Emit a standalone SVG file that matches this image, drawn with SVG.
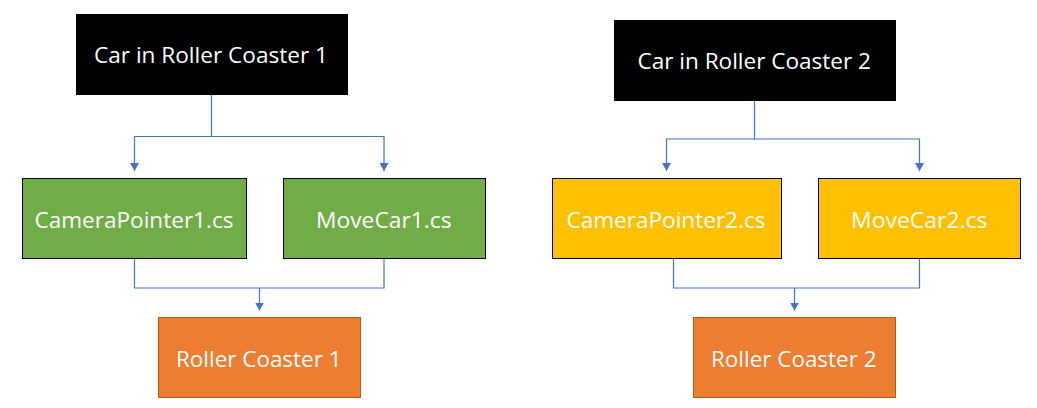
<svg xmlns="http://www.w3.org/2000/svg" width="1037" height="408" viewBox="0 0 1037 408">
<defs>
<marker id="arr" markerWidth="9" markerHeight="9" refX="8" refY="4.5" orient="auto" markerUnits="userSpaceOnUse">
<path d="M0,0 L8,4.5 L0,9 Z" fill="#4472C4"/>
</marker>
<style>
.lbl{font-family:"Open Sans","Noto Sans","Liberation Sans",sans-serif;font-size:22px;fill:#fff}
.blk{fill:#000}
.grn{fill:#70AD47;stroke:#000;stroke-width:1}
.yel{fill:#FFC000;stroke:#000;stroke-width:1}
.org{fill:#ED7D31;stroke:#AE5A21;stroke-width:1}
.ln{fill:none;stroke:#4472C4;stroke-width:1.2}
</style>
</defs>
<rect width="1037" height="408" fill="#fff"/>
<g id="connectors">
<path class="ln" d="M211.5,95 V136.5 H134.5 V171" marker-end="url(#arr)"/>
<path class="ln" d="M211.5,136.5 H384 V171" marker-end="url(#arr)"/>
<path class="ln" d="M134.5,258.5 V288 H384 V258.5"/>
<path class="ln" d="M259.5,288 V310.5" marker-end="url(#arr)"/>
<path class="ln" d="M754.5,100.5 V139 H666.5 V171" marker-end="url(#arr)"/>
<path class="ln" d="M754.5,139 H919.5 V171" marker-end="url(#arr)"/>
<path class="ln" d="M673.5,258.5 V288 H919.5 V258.5"/>
<path class="ln" d="M794.5,288 V310.5" marker-end="url(#arr)"/>
</g>
<g id="car1">
<rect class="blk" x="76" y="14" width="272" height="81"/>
<text class="lbl" x="94" y="63" textLength="234" lengthAdjust="spacingAndGlyphs">Car in Roller Coaster 1</text>
</g>
<g id="cam1">
<rect class="grn" x="22.5" y="178.5" width="224" height="80"/>
<text class="lbl" x="34.5" y="227.5" textLength="199" lengthAdjust="spacingAndGlyphs">CameraPointer1.cs</text>
</g>
<g id="move1">
<rect class="grn" x="283.5" y="178.5" width="202" height="80"/>
<text class="lbl" x="316" y="227.5" textLength="135.5" lengthAdjust="spacingAndGlyphs">MoveCar1.cs</text>
</g>
<g id="rc1">
<rect class="org" x="158.5" y="317.5" width="202" height="80"/>
<text class="lbl" x="176" y="366.5" textLength="165.5" lengthAdjust="spacingAndGlyphs">Roller Coaster 1</text>
</g>
<g id="car2">
<rect class="blk" x="614" y="20" width="282" height="81"/>
<text class="lbl" x="637.5" y="69" textLength="233.5" lengthAdjust="spacingAndGlyphs">Car in Roller Coaster 2</text>
</g>
<g id="cam2">
<rect class="yel" x="552.5" y="178.5" width="229" height="80"/>
<text class="lbl" x="566.5" y="227.5" textLength="199" lengthAdjust="spacingAndGlyphs">CameraPointer2.cs</text>
</g>
<g id="move2">
<rect class="yel" x="818.5" y="178.5" width="202" height="80"/>
<text class="lbl" x="851" y="227.5" textLength="136.5" lengthAdjust="spacingAndGlyphs">MoveCar2.cs</text>
</g>
<g id="rc2">
<rect class="org" x="693.5" y="317.5" width="202" height="80"/>
<text class="lbl" x="711" y="366.5" textLength="165.5" lengthAdjust="spacingAndGlyphs">Roller Coaster 2</text>
</g>
</svg>
